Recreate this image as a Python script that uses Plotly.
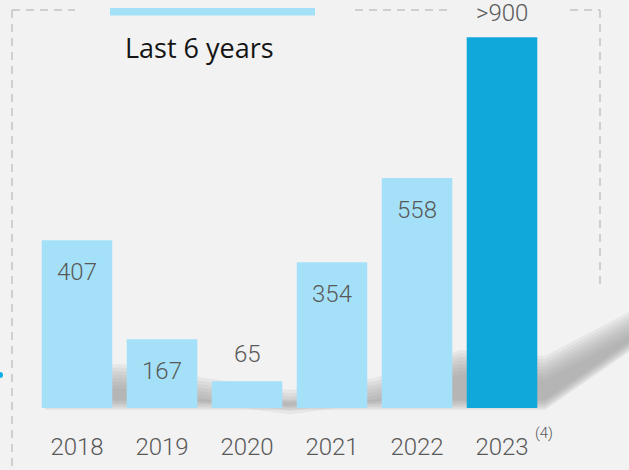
import plotly.graph_objects as go

# ---- data ----
years = ["2018", "2019", "2020", "2021", "2022", "2023"]
values = [407, 167, 65, 354, 558, 900]
value_labels = ["407", "167", "65", "354", "558", ">900"]
highlight = [False, False, False, False, False, True]
footnote = "(4)"
title_text = "Last 6 years"

W, H = 629, 470
BASE = 408  # pixel y of the bar baseline (bottom of the plot area)

LIGHT = "#a4e1f8"
DARK = "#10a7db"
GREY_TXT = "#595959"
FONT = "Roboto"
LIGHT_W = 300


def px(x):
    return x / W


def py(y):
    return (BASE - y) / BASE


colors = [DARK if h else LIGHT for h in highlight]

fig = go.Figure()
fig.add_trace(go.Bar(
    x=years, y=values, marker=dict(color=colors, line=dict(width=0)),
    width=0.83, hoverinfo="skip", showlegend=False,
))

# value labels (x given as category index on the category axis)
annotations = []
for i, (v, lab, h) in enumerate(zip(values, value_labels, highlight)):
    inside = (v >= 100) and not h
    annotations.append(dict(
        x=i, y=v, xref="x", yref="y", text=lab, showarrow=False,
        yanchor="middle", xanchor="center",
        yshift=-32 if inside else (24 if h else 27),
        font=dict(family=FONT, size=24, color=GREY_TXT, weight=LIGHT_W),
    ))

# footnote marker next to last year
annotations.append(dict(
    x=len(years) - 1, y=0, xref="x", yref="paper", text=footnote, showarrow=False,
    xanchor="left", yanchor="middle", xshift=31, yshift=-25,
    font=dict(family=FONT, size=15, color=GREY_TXT, weight=LIGHT_W),
))

# title text
annotations.append(dict(
    x=px(123), y=py(47), xref="paper", yref="paper", text=title_text,
    showarrow=False, xanchor="left", yanchor="middle",
    font=dict(family="Open Sans", size=27, color="#141414"),
))

shapes = []

# decorative blurred shadow behind the bars
top_edge = [(45, 370), (120, 364), (205, 378), (290, 390), (375, 378),
            (460, 350), (545, 356), (629, 312)]
bot_edge = [(629, 352), (545, 410), (45, 410)]
for k in range(8):
    pts = [(x, y + k * 3.5) for x, y in top_edge] + [(x, y - k * 1.5) for x, y in bot_edge]
    path = "M " + " L ".join(f"{px(x):.5f},{py(y):.5f}" for x, y in pts) + " Z"
    shapes.append(dict(type="path", path=path, xref="paper", yref="paper",
                       fillcolor="#9a9a9a", opacity=0.13, line=dict(width=0),
                       layer="below"))

# dashed frame
dash_line = dict(color="#c4c4c4", width=1.5, dash="8px,6px")
for (x0, y0, x1, y1) in [(12, 10, 12, 475), (12, 10, 75, 10), (355, 10, 448, 10),
                         (570, 10, 600, 10), (600, 10, 600, 286)]:
    shapes.append(dict(type="line", xref="paper", yref="paper",
                       x0=px(x0), y0=py(y0), x1=px(x1), y1=py(y1),
                       line=dash_line, layer="below"))

# light blue header strip
shapes.append(dict(type="rect", xref="paper", yref="paper",
                   x0=px(110), x1=px(315), y0=py(15.5), y1=py(8),
                   fillcolor=LIGHT, line=dict(width=0), layer="above"))

# small blue dot on the left edge
shapes.append(dict(type="circle", xref="paper", yref="paper",
                   x0=px(-3), x1=px(3), y0=py(378), y1=py(372),
                   fillcolor="#0ab0e8", line=dict(width=0)))

fig.update_layout(
    width=W, height=H,
    margin=dict(l=0, r=0, t=0, b=H - BASE, pad=0),
    paper_bgcolor="#f2f2f2", plot_bgcolor="#f2f2f2",
    xaxis=dict(type="category", range=[-77 / 85, -77 / 85 + W / 85],
               showgrid=False, zeroline=False, showline=False, ticks="",
               tickfont=dict(family=FONT, size=24, color=GREY_TXT, weight=LIGHT_W),
               ticklabelstandoff=22, fixedrange=True),
    yaxis=dict(range=[0, BASE / 0.412], visible=False, fixedrange=True),
    annotations=annotations, shapes=shapes,
    bargap=0.17,
)

fig.write_html("out.html")
